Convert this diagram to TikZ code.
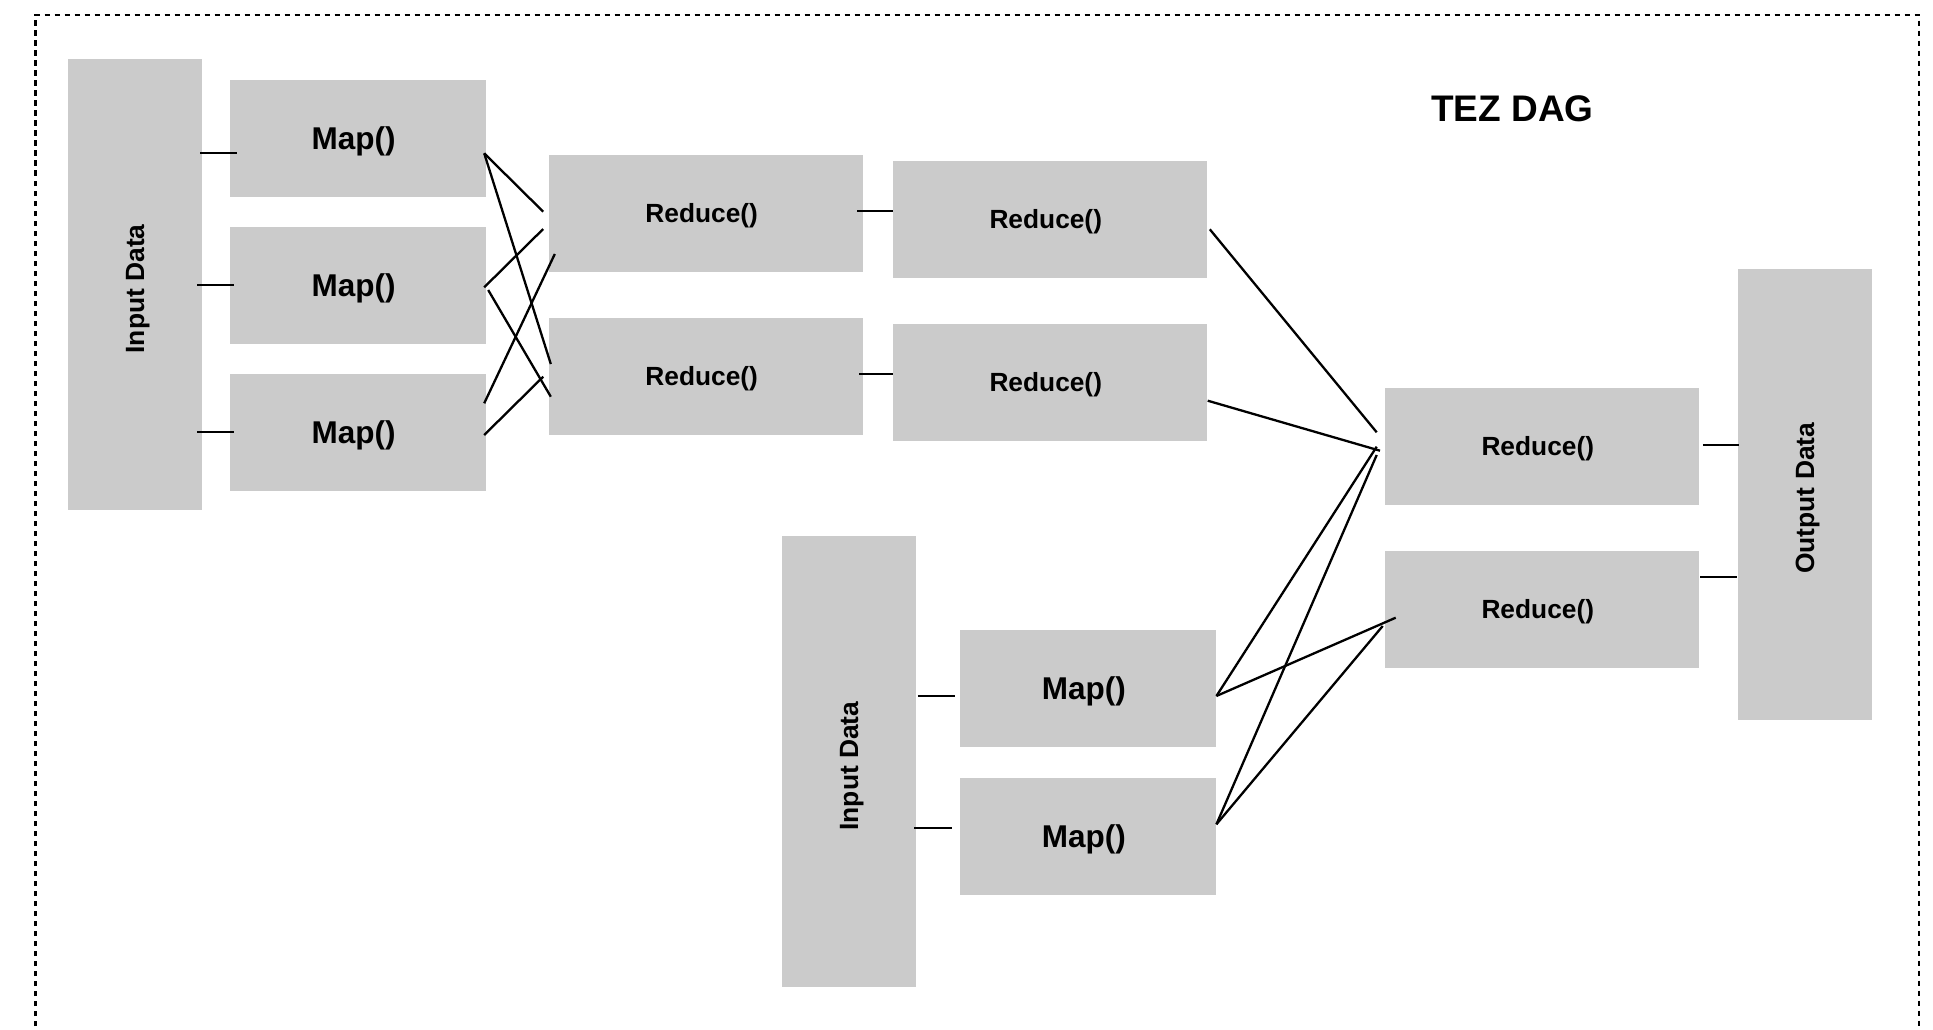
\documentclass[tikz,border=0pt]{standalone}
\usepackage{fontspec}
\setmainfont{Liberation Sans}
\usetikzlibrary{calc}
\definecolor{boxgray}{RGB}{203,203,203}
\tikzset{
  x=1pt, y=1pt,
  gbox/.style={fill=boxgray, draw=none, inner sep=0pt, text depth=0pt,
    execute at end node={\kern 8.5pt}, font=\bfseries},
  mapbox/.style={gbox, minimum width=256.4, minimum height=116.7, font=\fontsize{31.5}{31.5}\selectfont\bfseries},
  redbox/.style={gbox, minimum width=314.2, minimum height=116.7, font=\fontsize{26.3}{26.3}\selectfont\bfseries},
  databox/.style={gbox, rotate=90, minimum width=451, minimum height=133.7, font=\fontsize{26.4}{26.4}\selectfont\bfseries},
  link/.style={draw=black, line width=2.3},
  frame/.style={draw=black, line width=2.6, dash pattern=on 5.5 off 4.5}
}
\begin{document}
\begin{tikzpicture}
\useasboundingbox (0,0) rectangle (1933,-1030);

% outer frame, open at the bottom edge
\draw[frame] (35.6,-1036) -- (35.6,-15) -- (1919,-15) -- (1919,-1036);

\node[font=\fontsize{37}{37}\selectfont\bfseries] (title) at (1512.5,-108.5) {TEZ DAG};

% first input and its maps (rotated boxes: .south is the right side, .north the left side)
\node[databox] (in1) at (135,-284.6) {Input Data};
\node[mapbox] (m1) at (357.8,-138.3) {Map()};
\node[mapbox] (m2) at (357.8,-285.2) {Map()};
\node[mapbox] (m3) at (357.8,-432.3) {Map()};

% reduce stages
\node[redbox] (ra1) at (705.9,-213.3) {Reduce()};
\node[redbox] (ra2) at (705.9,-376.2) {Reduce()};
\node[redbox] (rb1) at (1050,-219.3) {Reduce()};
\node[redbox] (rb2) at (1050,-382.3) {Reduce()};
\node[redbox] (rc1) at (1542,-446.3) {Reduce()};
\node[redbox] (rc2) at (1542,-609.3) {Reduce()};

\node[databox] (out) at (1804.8,-494) {Output Data};

% second input and its maps
\node[databox] (in2) at (849,-761.8) {Input Data};
\node[mapbox] (m4) at (1088,-688.3) {Map()};
\node[mapbox] (m5) at (1088,-836.3) {Map()};

% input -> map
\draw[link] ($(in1.south)+(-1.7,131.3)$) -- ($(m1.west)+(7.4,-15)$);
\draw[link] ($(in1.south)+(-4.7,-0.4)$) -- ($(m2.west)+(4.4,0.2)$);
\draw[link] ($(in1.south)+(-4.7,-147.4)$) -- ($(m3.west)+(4.4,0.3)$);

% map -> reduce (first stage)
\draw[link] ($(m1.east)+(-2,-15)$) -- ($(ra1.west)+(-5.4,1.6)$);
\draw[link] ($(m1.east)+(-2,-15)$) -- ($(ra2.west)+(2.2,12.2)$);
\draw[link] ($(m2.east)+(-2,-2.1)$) -- ($(ra1.west)+(-5.4,-15.7)$);
\draw[link] ($(m2.east)+(2,-4.8)$) -- ($(ra2.west)+(2.2,-20.5)$);
\draw[link] ($(m3.east)+(-2,29)$) -- ($(ra1.west)+(6.2,-40.7)$);
\draw[link] ($(m3.east)+(-2,-2.7)$) -- ($(ra2.west)+(-5.4,-0.5)$);

% reduce -> reduce
\draw[link] ($(ra1.east)+(-6,2.3)$) -- ($(rb1.west)+(0,8.3)$);
\draw[link] ($(ra2.east)+(-4,2.2)$) -- ($(rb2.west)+(0,8.3)$);

% second reduce stage -> final reduce
\draw[link] ($(rb1.east)+(2.5,-10)$) -- ($(rc1.west)+(-8,14)$);
\draw[link] ($(rb2.east)+(0.4,-18.4)$) -- ($(rc1.west)+(-4.7,-4.4)$);

% second input -> maps
\draw[link] ($(in2.south)+(1.7,65.8)$) -- ($(m4.west)+(-4.4,-7.7)$);
\draw[link] ($(in2.south)+(-2,-65.9)$) -- ($(m5.west)+(-7.5,8.6)$);

% second maps -> final reduces
\draw[link] ($(m4.east)+(0,-7.7)$) -- ($(rc1.west)+(-8,-0.4)$);
\draw[link] ($(m5.east)+(0,12)$) -- ($(rc1.west)+(-8,-8.7)$);
\draw[link] ($(m4.east)+(0,-7.7)$) -- ($(rc2.west)+(11,-8.4)$);
\draw[link] ($(m5.east)+(0,12)$) -- ($(rc2.west)+(-2,-16.7)$);

% final reduces -> output
\draw[link] ($(rc1.east)+(3.6,1.3)$) -- ($(out.north)+(1.6,49)$);
\draw[link] ($(rc2.east)+(1,32)$) -- ($(out.north)+(-1,-83.3)$);
\end{tikzpicture}
\end{document}
